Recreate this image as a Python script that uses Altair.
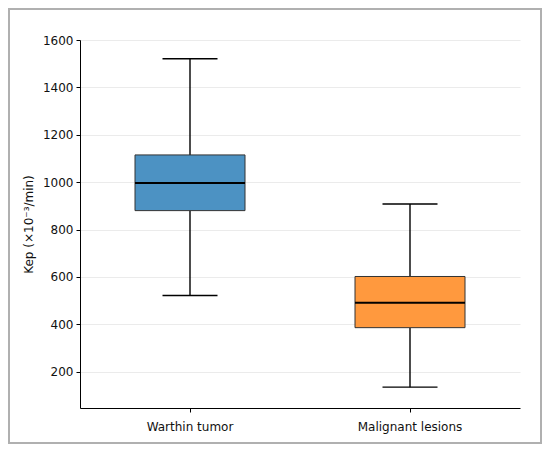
import altair as alt
import pandas as pd

groups = ["Warthin tumor", "Malignant lesions"]
mins = [522, 135]
q1s = [880, 386]
medians = [996, 491]
q3s = [1115, 602]
maxs = [1521, 908]
colors = ["#4c92c3", "#ff993e"]
y_ticks = [200, 400, 600, 800, 1000, 1200, 1400, 1600]

df = pd.DataFrame({
    "group": groups, "min": mins, "q1": q1s, "median": medians,
    "q3": q3s, "max": maxs,
})

FONT = "DejaVu Sans"

x_enc = alt.X("group:N", sort=groups,
              scale=alt.Scale(paddingInner=0, paddingOuter=0),
              axis=alt.Axis(title=None, labelAngle=0, labelFontSize=12, labelFont=FONT,
                            labelColor="#111", domainColor="#000", tickColor="#000",
                            tickSize=4, labelPadding=9, grid=False))
y_scale = alt.Scale(domain=[47, 1600], nice=False, zero=False)
y_axis = alt.Axis(title="Kep (×10⁻³/min)", values=y_ticks, format="d",
                  labelFontSize=12, labelFont=FONT,
                  labelColor="#111", domainColor="#000", tickColor="#000", tickSize=4,
                  labelPadding=3, titleFont=FONT, titleFontSize=12, titleFontWeight="normal",
                  titleColor="#111", titlePadding=7, grid=True, gridColor="#ebebeb",
                  gridWidth=1)

base = alt.Chart(df)

whisk_hi = base.mark_rule(color="#000", strokeWidth=1.4).encode(
    x=x_enc, y=alt.Y("q3:Q", scale=y_scale, axis=y_axis), y2="max:Q")
whisk_lo = base.mark_rule(color="#000", strokeWidth=1.4).encode(
    x=x_enc, y=alt.Y("min:Q", scale=y_scale, axis=y_axis), y2="q1:Q")
box = base.mark_bar(size=110, stroke="#333", strokeWidth=1).encode(
    x=x_enc, y=alt.Y("q1:Q", scale=y_scale, axis=y_axis), y2="q3:Q",
    color=alt.Color("group:N", scale=alt.Scale(domain=groups, range=colors), legend=None))
med = base.mark_tick(size=110, thickness=2, color="#000", opacity=1).encode(
    x=x_enc, y=alt.Y("median:Q", scale=y_scale, axis=y_axis))
cap_hi = base.mark_tick(size=55, thickness=1.4, color="#000", opacity=1).encode(
    x=x_enc, y=alt.Y("max:Q", scale=y_scale, axis=y_axis))
cap_lo = base.mark_tick(size=55, thickness=1.4, color="#000", opacity=1).encode(
    x=x_enc, y=alt.Y("min:Q", scale=y_scale, axis=y_axis))

frame = alt.Chart(pd.DataFrame({"a": [0]})).mark_rect(
    fill=None, stroke="#b0b0b0", strokeWidth=2).encode(
    x=alt.value(-71), x2=alt.value(461), y=alt.value(-31), y2=alt.value(403))

chart = alt.layer(frame, whisk_hi, whisk_lo, box, med, cap_hi, cap_lo).properties(
    width=440, height=368,
    autosize=alt.AutoSizeParams(type="none"),
    padding={"left": 72, "top": 32, "right": 22, "bottom": 36},
    background="white",
).configure_view(stroke=None)

chart.save("out.html", embed_options={"renderer": "svg", "actions": False})
